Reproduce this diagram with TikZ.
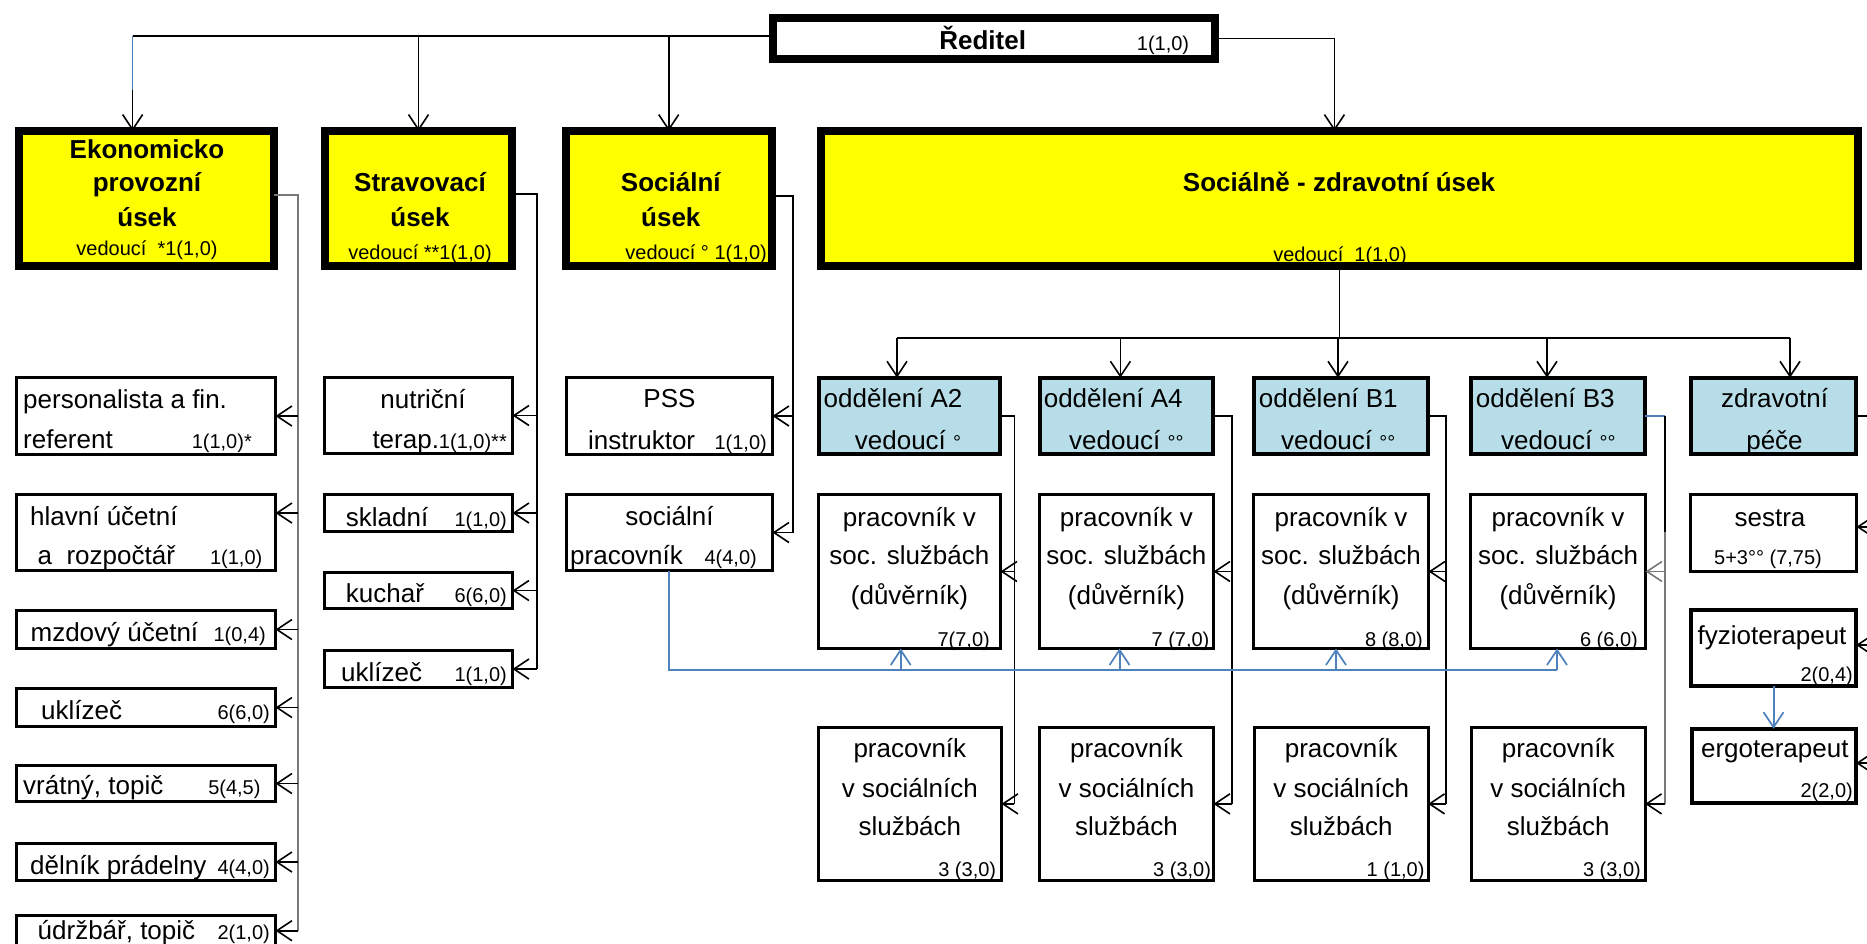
\documentclass[tikz,border=0pt]{standalone}
\usepackage{fontspec}
\setmainfont{Liberation Sans}
\usetikzlibrary{arrows.meta,calc}
\definecolor{yel}{RGB}{255,255,0}
\definecolor{lblue}{RGB}{183,221,232}
\definecolor{bline}{RGB}{79,129,189}
\definecolor{gline}{RGB}{120,120,120}
\newcommand\fbody{\fontsize{26}{30}\selectfont}
\newcommand\fsmall{\fontsize{20}{24}\selectfont}
\newcommand\ftitle{\fontsize{26}{30}\selectfont\bfseries}
\begin{document}
\begin{tikzpicture}[x=1pt,y=-1pt,
  ybox/.style={draw=black,fill=yel,line width=8pt,inner sep=0pt,outer sep=0pt},
  rbox/.style={draw=black,fill=white,line width=8pt,inner sep=0pt,outer sep=0pt},
  bbox/.style={draw=black,fill=lblue,line width=4pt,inner sep=0pt,outer sep=0pt},
  wbox/.style={draw=black,fill=white,line width=3pt,inner sep=0pt,outer sep=0pt},
  tb/.style={inner sep=0pt,font=\fbody,text height=18.7pt,text depth=0pt},
  ts/.style={inner sep=0pt,font=\fsmall,text height=18.7pt,text depth=0pt},
  tt/.style={inner sep=0pt,font=\ftitle,text height=18.7pt,text depth=0pt},
  conn/.style={line width=1.6pt,draw=black},
  arr/.style={conn,-{Straight Barb[length=15pt,width=20pt,line width=1.6pt]}},
  gconn/.style={line width=1.7pt,draw=gline},
  bconn/.style={line width=2pt,draw=bline},
  barr/.style={bconn,-{Straight Barb[length=15pt,width=20pt,line width=1.7pt]}},
]
\fill[white] (0,0) rectangle (1867,943);
\useasboundingbox (0,0) rectangle (1867,943);
\clip (0,0) rectangle (1867,943);

% ---------- boxes ----------
\node[rbox,minimum width=441.6pt,minimum height=40.7pt] (red) at (993.8,38.35) {};
\node[ybox,minimum width=255pt,minimum height=135pt] (ekon) at (146.2,198.5) {};
\node[ybox,minimum width=187pt,minimum height=135pt] (strav) at (418.5,198.5) {};
\node[ybox,minimum width=206pt,minimum height=135pt] (soc) at (668.7,198.5) {};
\node[ybox,minimum width=1037pt,minimum height=135pt] (sz) at (1339.4,198.5) {};

\node[wbox,minimum width=259pt,minimum height=77pt] (pers) at (146,416) {};
\node[wbox,minimum width=259pt,minimum height=76pt] (hlav) at (146,532.5) {};
\node[wbox,minimum width=259pt,minimum height=38pt] (mzd) at (146,629.5) {};
\node[wbox,minimum width=259pt,minimum height=38pt] (uklA) at (146,707.5) {};
\node[wbox,minimum width=259pt,minimum height=36pt] (vrat) at (146,783.5) {};
\node[wbox,minimum width=259pt,minimum height=37pt] (deln) at (146,862) {};
\node[wbox,minimum width=259pt,minimum height=53pt] (udrz) at (146,942) {};

\node[wbox,minimum width=188.5pt,minimum height=76pt] (nutr) at (418.25,415.5) {};
\node[wbox,minimum width=188.5pt,minimum height=37pt] (skla) at (418.25,513) {};
\node[wbox,minimum width=188.5pt,minimum height=36pt] (kuch) at (418.25,590.5) {};
\node[wbox,minimum width=188.5pt,minimum height=37pt] (uklB) at (418.25,669) {};

\node[wbox,minimum width=206.4pt,minimum height=77pt] (pss) at (669.3,416) {};
\node[wbox,minimum width=206.4pt,minimum height=76pt] (socp) at (669.3,532.5) {};

\node[bbox,minimum width=181.2pt,minimum height=76pt] (A2) at (909.4,415.7) {};
\node[bbox,minimum width=173.2pt,minimum height=76pt] (A4) at (1126.4,415.7) {};
\node[bbox,minimum width=174pt,minimum height=76pt] (B1) at (1341,415.7) {};
\node[bbox,minimum width=174pt,minimum height=76pt] (B3) at (1558,415.7) {};
\node[bbox,minimum width=164.7pt,minimum height=76pt] (zdrav) at (1773.7,415.7) {};

\node[wbox,minimum width=182.2pt,minimum height=154pt] (dA2) at (909.4,571.5) {};
\node[wbox,minimum width=174.2pt,minimum height=154pt] (dA4) at (1126.4,571.5) {};
\node[wbox,minimum width=175pt,minimum height=154pt] (dB1) at (1341,571.5) {};
\node[wbox,minimum width=175pt,minimum height=154pt] (dB3) at (1558,571.5) {};

\node[wbox,minimum width=183.3pt,minimum height=152.7pt] (pA2) at (909.85,803.85) {};
\node[wbox,minimum width=174pt,minimum height=152.7pt] (pA4) at (1126.5,803.85) {};
\node[wbox,minimum width=173.8pt,minimum height=152.7pt] (pB1) at (1341.2,803.85) {};
\node[wbox,minimum width=173.8pt,minimum height=152.7pt] (pB3) at (1558.2,803.85) {};

\node[wbox,minimum width=166pt,minimum height=76.7pt] (ses) at (1773.5,532.85) {};
\node[wbox,line width=4pt,minimum width=165pt,minimum height=76pt] (fyz) at (1773.5,648) {};
\node[wbox,line width=4pt,minimum width=164.5pt,minimum height=74.3pt] (erg) at (1773.75,765.85) {};

% ---------- connectors: top level ----------
\coordinate (topL) at (132.6,35.7);
\draw[conn] (topL) -- (topL -| red.west);
\draw[arr] (topL) -- (topL |- ekon.north);
\draw[bconn,line width=1.6pt] (topL) -- ($(topL)+(0,54)$);
\draw[arr] (topL -| strav.north) -- (strav.north);
\draw[arr] (topL -| soc.north) -- (soc.north);
\draw[arr] (red.east) -| ([xshift=-5pt]sz.north);

% ---------- Ekonomicko list ----------
\coordinate (ekv) at (298,195);
\coordinate (hlavE) at ([yshift=19.5pt]hlav.east);
\coordinate (udrzE) at ([yshift=11.3pt]udrz.east);
\draw[gconn] (ekon.east |- ekv) -- (ekv) -- (ekv |- udrzE);
\foreach \n in {pers,mzd,uklA,vrat,deln} \draw[arr] (ekv |- \n.east) -- (\n.east);
\draw[arr] (ekv |- hlavE) -- (hlavE);
\draw[arr] (ekv |- udrzE) -- (udrzE);

% ---------- Stravovaci list ----------
\coordinate (stv) at (537,194);
\draw[conn] (strav.east |- stv) -- (stv) -- (stv |- uklB.east);
\foreach \n in {nutr,skla,kuch,uklB} \draw[arr] (stv |- \n.east) -- (\n.east);

% ---------- Socialni list ----------
\coordinate (sov) at (793,196);
\draw[conn] (soc.east |- sov) -- (sov) -- (sov |- socp.east);
\foreach \n in {pss,socp} \draw[arr] (sov |- \n.east) -- (\n.east);

% ---------- distribution under SZ ----------
\coordinate (dist) at (1338.4,337.7);
\coordinate (tA2) at ([xshift=-12.4pt]A2.north);
\coordinate (tA4) at ([xshift=-6pt]A4.north);
\coordinate (tB1) at ([xshift=-3pt]B1.north);
\coordinate (tB3) at ([xshift=-11pt]B3.north);
\coordinate (tZ) at ([xshift=16.3pt]zdrav.north);
\draw[conn] (sz.south) -- (sz.south |- dist);
\draw[conn] (tA2 |- dist) -- (tZ |- dist);
\foreach \t in {tA2,tA4,tB1,tB3,tZ} \draw[arr] (\t |- dist) -- (\t);

% ---------- department lines ----------
\coordinate (vA2) at (1014.3,0);
\coordinate (vA4) at (1232,0);
\coordinate (vB1) at (1446,0);
\coordinate (vB3) at (1664.7,0);
\draw[conn] (A2.east) -- (A2.east -| vA2) -- (vA2 |- pA2.east);
\draw[arr] (vA2 |- dA2.east) -- (dA2.east);
\draw[arr] (vA2 |- pA2.east) -- (pA2.east);
\draw[conn] (A4.east) -- (A4.east -| vA4) -- (vA4 |- pA4.east);
\draw[arr] (vA4 |- dA4.east) -- (dA4.east);
\draw[arr] (vA4 |- pA4.east) -- (pA4.east);
\draw[conn] (B1.east) -- (B1.east -| vB1) -- (vB1 |- pB1.east);
\draw[arr] (vB1 |- dB1.east) -- (dB1.east);
\draw[arr] (vB1 |- pB1.east) -- (pB1.east);
\coordinate (b3mid) at ($(vB3 |- B3.east)+(0,116)$);
\draw[bconn,line width=1.6pt] (B3.east) -- (B3.east -| vB3);
\draw[conn] (B3.east -| vB3) -- (b3mid);
\draw[gconn] (b3mid) -- (vB3 |- pB3.east);
\draw[arr,draw=gline] (vB3 |- dB3.east) -- (dB3.east);
\draw[arr] (vB3 |- pB3.east) -- (pB3.east);

% ---------- zdravotni pece ----------
\coordinate (vZ) at (1885,0);
\coordinate (sesE) at ([yshift=6pt]ses.east);
\coordinate (fyzE) at ([yshift=3pt]fyz.east);
\coordinate (ergE) at ([yshift=2.8pt]erg.east);
\draw[conn] (zdrav.east) -- (zdrav.east -| vZ) -- (vZ |- ergE);
\foreach \t in {sesE,fyzE,ergE} \draw[arr] (vZ |- \t) -- (\t);
\draw[barr] (fyz.south) -- (fyz.south |- erg.north);

% ---------- blue line ----------
\coordinate (bl) at (0,670);
\coordinate (bA2) at ([xshift=-8.7pt]dA2.south);
\coordinate (bA4) at ([xshift=-6.9pt]dA4.south);
\coordinate (bB1) at ([xshift=-5pt]dB1.south);
\coordinate (bB3) at ([xshift=-1pt]dB3.south);
\draw[bconn] (socp.south) -- (socp.south |- bl) -- (bB3 |- bl);
\foreach \t in {bA2,bA4,bB1,bB3} \draw[barr] (\t |- bl) -- (\t);

% ---------- texts ----------
\node[tt] (redT) at (982.7,40) {Ředitel};
\node[ts] (redN) at (1163,41) {1(1,0)};

\node[tt] (ekT1) at (147,149) {Ekonomicko};
\node[tt] (ekT2) at (147,182) {provozní};
\node[tt] (ekT3) at (147,217) {úsek};
\node[ts] (ekT4) at (147,246) {vedoucí\ \ *1(1,0)};

\node[tt] (stT1) at (420,182) {Stravovací};
\node[tt] (stT2) at (420,217) {úsek};
\node[ts] (stT3) at (420,250) {vedoucí **1(1,0)};

\node[tt] (soT1) at (670.8,181.7) {Sociální};
\node[tt] (soT2) at (670.8,216.7) {úsek};
\node[ts,anchor=east] (soT3) at (767,250) {vedoucí ° 1(1,0)};

\node[tt] (szT1) at (1339,182) {Sociálně - zdravotní úsek};
\node[ts] (szT2) at (1340,252) {vedoucí\ \ 1(1,0)};

\node[tb,anchor=west] (pers1) at (23,399) {personalista a fin.};
\node[tb,anchor=west] (pers2) at (23,439) {referent};
\node[ts,anchor=east] (pers3) at (252,439) {1(1,0)*};
\node[tb,anchor=west] (hlav1) at (30,516) {hlavní účetní};
\node[tb,anchor=west] (hlav2) at (37.5,555) {a\ \ rozpočtář};
\node[ts,anchor=east] (hlav3) at (262.5,555) {1(1,0)};
\node[tb,anchor=west] (mzd1) at (30.4,631.7) {mzdový účetní};
\node[ts,anchor=east] (mzd2) at (266,631.7) {1(0,4)};
\node[tb,anchor=west] (uklA1) at (41,710) {uklízeč};
\node[ts,anchor=east] (uklA2) at (270,710) {6(6,0)};
\node[tb,anchor=west] (vrat1) at (23,785) {vrátný, topič};
\node[ts,anchor=east] (vrat2) at (260.7,785) {5(4,5)};
\node[tb,anchor=west] (deln1) at (30,865) {dělník prádelny};
\node[ts,anchor=east] (deln2) at (270,865) {4(4,0)};
\node[tb,anchor=west] (udrz1) at (37.5,930) {údržbář, topič};
\node[ts,anchor=east] (udrz2) at (270,930) {2(1,0)};

\node[tb] (nutr1) at (423,399) {nutriční};
\node[tb,anchor=east] (nutr2) at (507,439) {terap.{\fsmall 1(1,0)**}};
\node[tb,anchor=west] (skla1) at (345.7,517) {skladní};
\node[ts,anchor=east] (skla2) at (507,517) {1(1,0)};
\node[tb,anchor=west] (kuch1) at (345.7,593) {kuchař};
\node[ts,anchor=east] (kuch2) at (507,593) {6(6,0)};
\node[tb,anchor=west] (uklB1) at (341,671.7) {uklízeč};
\node[ts,anchor=east] (uklB2) at (507,671.7) {1(1,0)};

\node[tb] (pss1) at (669.5,398) {PSS};
\node[tb,anchor=west] (pss2) at (588,440) {instruktor};
\node[ts,anchor=east] (pss3) at (767,440) {1(1,0)};
\node[tb] (socp1) at (669.5,516) {sociální};
\node[tb,anchor=west] (socp2) at (570,555) {pracovník};
\node[ts,anchor=east] (socp3) at (757,555) {4(4,0)};

\node[tb,anchor=west] (A2a) at (823.5,398) {oddělení A2};
\node[tb,anchor=west] (A2b) at (854.7,440) {vedoucí {\fsmall °}};
\node[tb,anchor=west] (A4a) at (1043.6,398) {oddělení A4};
\node[tb,anchor=west] (A4b) at (1069,440) {vedoucí {\fsmall °°}};
\node[tb,anchor=west] (B1a) at (1258.7,398) {oddělení B1};
\node[tb,anchor=west] (B1b) at (1280.9,440) {vedoucí {\fsmall °°}};
\node[tb,anchor=west] (B3a) at (1475.7,398) {oddělení B3};
\node[tb,anchor=west] (B3b) at (1501,440) {vedoucí {\fsmall °°}};
\node[tb] (Za) at (1774.5,398) {zdravotní};
\node[tb] (Zb) at (1774.5,440) {péče};

\node[tb] (dA2a) at (909.4,516.7) {pracovník v};
\node[tb] (dA2b) at (909.4,555) {soc. službách};
\node[tb] (dA2c) at (909.4,595) {(důvěrník)};
\node[ts,anchor=east] (dA2d) at (990,636.7) {7(7,0)};
\node[tb] (dA4a) at (1126.4,516.7) {pracovník v};
\node[tb] (dA4b) at (1126.4,555) {soc. službách};
\node[tb] (dA4c) at (1126.4,595) {(důvěrník)};
\node[ts,anchor=east] (dA4d) at (1209.6,636.7) {7 (7,0)};
\node[tb] (dB1a) at (1341,516.7) {pracovník v};
\node[tb] (dB1b) at (1341,555) {soc. službách};
\node[tb] (dB1c) at (1341,595) {(důvěrník)};
\node[ts,anchor=east] (dB1d) at (1423,636.7) {8 (8,0)};
\node[tb] (dB3a) at (1558,516.7) {pracovník v};
\node[tb] (dB3b) at (1558,555) {soc. službách};
\node[tb] (dB3c) at (1558,595) {(důvěrník)};
\node[ts,anchor=east] (dB3d) at (1638,636.7) {6 (6,0)};

\node[tb] (pA2a) at (909.85,748) {pracovník};
\node[tb] (pA2b) at (909.85,787.7) {v sociálních};
\node[tb] (pA2c) at (909.85,825.7) {službách};
\node[ts,anchor=east] (pA2d) at (996.3,866.7) {3 (3,0)};
\node[tb] (pA4a) at (1126.5,748) {pracovník};
\node[tb] (pA4b) at (1126.5,787.7) {v sociálních};
\node[tb] (pA4c) at (1126.5,825.7) {službách};
\node[ts,anchor=east] (pA4d) at (1211.2,866.7) {3 (3,0)};
\node[tb] (pB1a) at (1341.2,748) {pracovník};
\node[tb] (pB1b) at (1341.2,787.7) {v sociálních};
\node[tb] (pB1c) at (1341.2,825.7) {službách};
\node[ts,anchor=east] (pB1d) at (1424.7,866.7) {1 (1,0)};
\node[tb] (pB3a) at (1558.2,748) {pracovník};
\node[tb] (pB3b) at (1558.2,787.7) {v sociálních};
\node[tb] (pB3c) at (1558.2,825.7) {službách};
\node[ts,anchor=east] (pB3d) at (1641,866.7) {3 (3,0)};

\node[tb] (ses1) at (1770,516.7) {sestra};
\node[ts] (ses2) at (1768,555) {5+3°° (7,75)};
\node[tb] (fyz1) at (1772,635) {fyzioterapeut};
\node[ts,anchor=east] (fyz2) at (1853,671.7) {2(0,4)};
\node[tb] (erg1) at (1774.8,748.3) {ergoterapeut};
\node[ts,anchor=east] (erg2) at (1853,788) {2(2,0)};
\end{tikzpicture}
\end{document}
